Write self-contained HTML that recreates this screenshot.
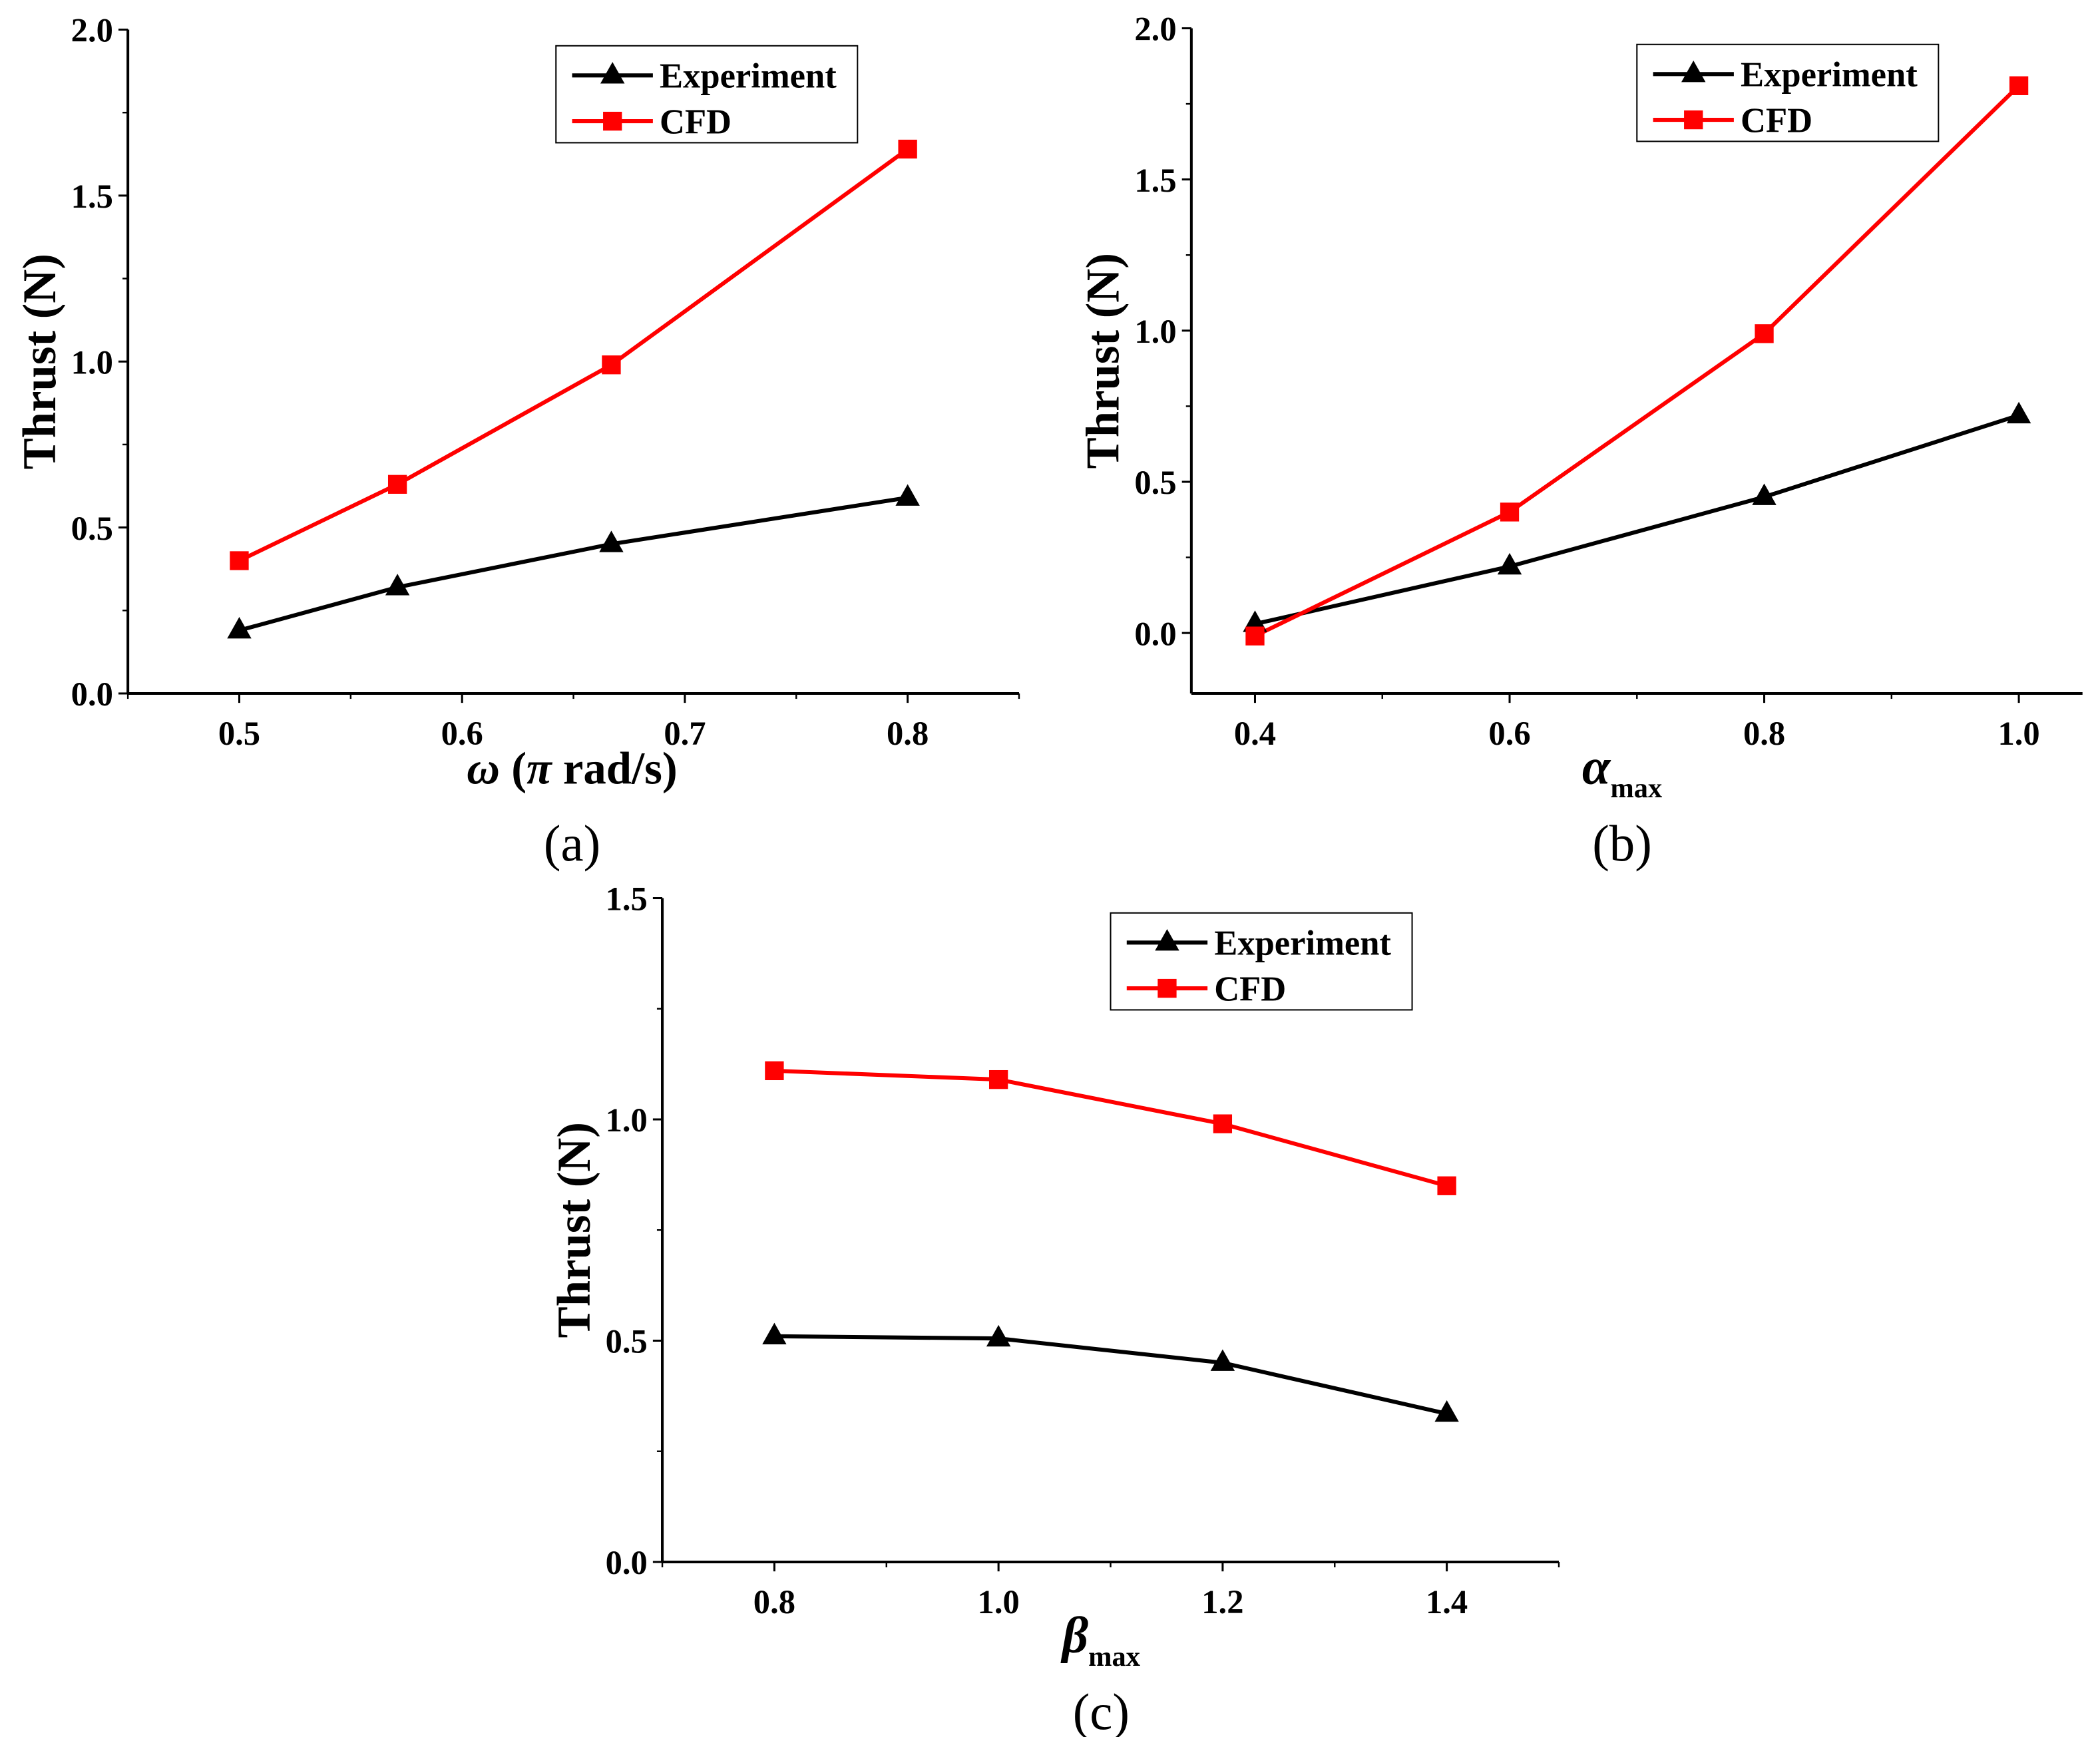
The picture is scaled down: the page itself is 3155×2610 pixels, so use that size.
<!DOCTYPE html>
<html><head><meta charset="utf-8"><style>
html,body{margin:0;padding:0;background:#fff;}
svg{display:block;}
text{font-family:"Liberation Serif",serif;}
</style></head><body>
<svg id="fig" width="3155" height="2610" viewBox="0 0 1560 1290" preserveAspectRatio="none" xmlns="http://www.w3.org/2000/svg">
<rect width="1560" height="1290" fill="#fff"/>
</svg>
<script>
// Panel (a)
const aX = [0.5, 0.571, 0.667, 0.8];
const aExp = [0.19, 0.32, 0.45, 0.59];
const aCfd = [0.40, 0.63, 0.99, 1.64];
const aXTicks = ["0.5","0.6","0.7","0.8"];
const aYTicks = ["0.0","0.5","1.0","1.5","2.0"];
// Panel (b)
const bX = [0.4, 0.6, 0.8, 1.0];
const bExp = [0.03, 0.22, 0.45, 0.72];
const bCfd = [-0.01, 0.40, 0.99, 1.81];
const bXTicks = ["0.4","0.6","0.8","1.0"];
const bYTicks = ["0.0","0.5","1.0","1.5","2.0"];
// Panel (c)
const cX = [0.8, 1.0, 1.2, 1.4];
const cExp = [0.51, 0.505, 0.45, 0.335];
const cCfd = [1.11, 1.09, 0.99, 0.85];
const cXTicks = ["0.8","1.0","1.2","1.4"];
const cYTicks = ["0.0","0.5","1.0","1.5"];

const NS="http://www.w3.org/2000/svg";
const svg=document.getElementById('fig');
function el(tag,attrs,parent,txt){const e=document.createElementNS(NS,tag);for(const k in attrs)e.setAttribute(k,attrs[k]);if(txt!==undefined)e.textContent=txt;(parent||svg).appendChild(e);return e;}

function panel(cfg){
  const g=el('g',{});
  
  
  const sx=v=>cfg.L+(v-cfg.x0)/(cfg.x1-cfg.x0)*(cfg.R-cfg.L);
  const sy=v=>cfg.B-(v-cfg.y0)/(cfg.y1-cfg.y0)*(cfg.B-cfg.T);
  const ax=el('line',{x1:cfg.L,y1:cfg.B,x2:cfg.R,y2:cfg.B,stroke:'#000','stroke-width':2},g);
  
  
  const ay=el('line',{x1:cfg.L,y1:cfg.T,x2:cfg.L,y2:cfg.B,stroke:'#000','stroke-width':2},g);
  
  
  cfg.xt.forEach(t=>{const v=parseFloat(t);const x=sx(v);
    el('line',{x1:x,y1:cfg.B,x2:x,y2:cfg.B+7,stroke:'#000','stroke-width':1.5},g);
    const tx=el('text',{x:x,y:cfg.B+38,'text-anchor':'middle','font-size':25,'font-weight':'bold'},g,t);
    
    
  });
  for(let k=0;;k++){const vv=Math.ceil(cfg.x0/(cfg.xm/2)-1e-9)*cfg.xm/2+k*cfg.xm/2;if(vv>cfg.x1+1e-9)break;
    el('line',{x1:sx(vv),y1:cfg.B,x2:sx(vv),y2:cfg.B+4,stroke:'#000','stroke-width':1.2},g);}
  cfg.yt.forEach(t=>{const v=parseFloat(t);const y=sy(v);
    el('line',{x1:cfg.L-7,y1:y,x2:cfg.L,y2:y,stroke:'#000','stroke-width':1.5},g);
    const ty=el('text',{x:cfg.L-11,y:y+9,'text-anchor':'end','font-size':25,'font-weight':'bold'},g,t);
    
    
  });
  for(let k=0;;k++){const v=parseFloat(cfg.yt[0])+0.25*k;if(v>cfg.y1+1e-9)break;
    el('line',{x1:cfg.L-4,y1:sy(v),x2:cfg.L,y2:sy(v),stroke:'#000','stroke-width':1.2},g);}
  const yl=el('text',{x:0,y:0,transform:`translate(${cfg.L-54},${(cfg.T+cfg.B)/2}) rotate(-90)`,'text-anchor':'middle','font-size':35,'font-weight':'bold'},g,'Thrust (N)');
  
  
  const xl=el('text',{x:cfg.xtx,y:cfg.B+67,'text-anchor':'middle','font-size':34,'font-weight':'bold'},g);
  
  
  xl.innerHTML=cfg.xtitle;
  const pl=el('text',{x:cfg.xtx,y:cfg.B+124,'text-anchor':'middle','font-size':38},g,cfg.label);
  
  
  const pts=(ys)=>cfg.xs.map((x,i)=>sx(x)+','+sy(ys[i])).join(' ');
  const le=el('polyline',{points:pts(cfg.exp),fill:'none',stroke:'#000','stroke-width':3},g);
  
  
  const lc=el('polyline',{points:pts(cfg.cfd),fill:'none',stroke:'#f00','stroke-width':3},g);
  
  
  cfg.xs.forEach((x,i)=>{const px=sx(x),py=sy(cfg.exp[i]);
    const m=el('polygon',{points:`${px},${py-10} ${px-9},${py+6} ${px+9},${py+6}`,fill:'#000'},g);
    
    
    const qy=sy(cfg.cfd[i]);
    const s=el('rect',{x:px-7,y:qy-7,width:14,height:14,fill:'#f00'},g);
    
    
  });
  const lx=cfg.lgx,ly=cfg.lgy;
  const lg=el('g',{},g);
  
  
  el('rect',{x:lx,y:ly,width:224,height:72,fill:'#fff',stroke:'#000','stroke-width':1},lg);
  el('line',{x1:lx+12,y1:ly+22,x2:lx+72,y2:ly+22,stroke:'#000','stroke-width':3},lg);
  el('polygon',{points:`${lx+42},${ly+12} ${lx+33},${ly+28} ${lx+51},${ly+28}`,fill:'#000'},lg);
  const t1=el('text',{x:lx+77,y:ly+31,'font-size':26,'font-weight':'bold'},lg,'Experiment');
  
  
  el('line',{x1:lx+12,y1:ly+56,x2:lx+72,y2:ly+56,stroke:'#f00','stroke-width':3},lg);
  el('rect',{x:lx+35,y:ly+49,width:14,height:14,fill:'#f00'},lg);
  const t2=el('text',{x:lx+77,y:ly+65,'font-size':26,'font-weight':'bold'},lg,'CFD');
  
  
}

panel({name:'panel-a',L:95,R:757,T:22,B:515,x0:0.45,x1:0.85,y0:0,y1:2,xm:0.1,xs:aX,exp:aExp,cfd:aCfd,xt:aXTicks,yt:aYTicks,
  xtx:425,xtitle:'<tspan font-style="italic">ω</tspan> (<tspan font-style="italic">π</tspan> rad/s)',label:'(a)',lgx:413,lgy:34});
panel({name:'panel-b',L:885,R:1547,T:21,B:515,x0:0.35,x1:1.05,y0:-0.2,y1:2,xm:0.2,xs:bX,exp:bExp,cfd:bCfd,xt:bXTicks,yt:bYTicks,
  xtx:1205,xtitle:'<tspan font-style="italic" font-size="38">α</tspan><tspan font-size="21" dy="10">max</tspan>',label:'(b)',lgx:1216,lgy:33});
panel({name:'panel-c',L:492,R:1158,T:667,B:1160,x0:0.7,x1:1.5,y0:0,y1:1.5,xm:0.2,xs:cX,exp:cExp,cfd:cCfd,xt:cXTicks,yt:cYTicks,
  xtx:818,xtitle:'<tspan font-style="italic" font-size="38">β</tspan><tspan font-size="21" dy="10">max</tspan>',label:'(c)',lgx:825,lgy:678});
</script>
</body></html>
